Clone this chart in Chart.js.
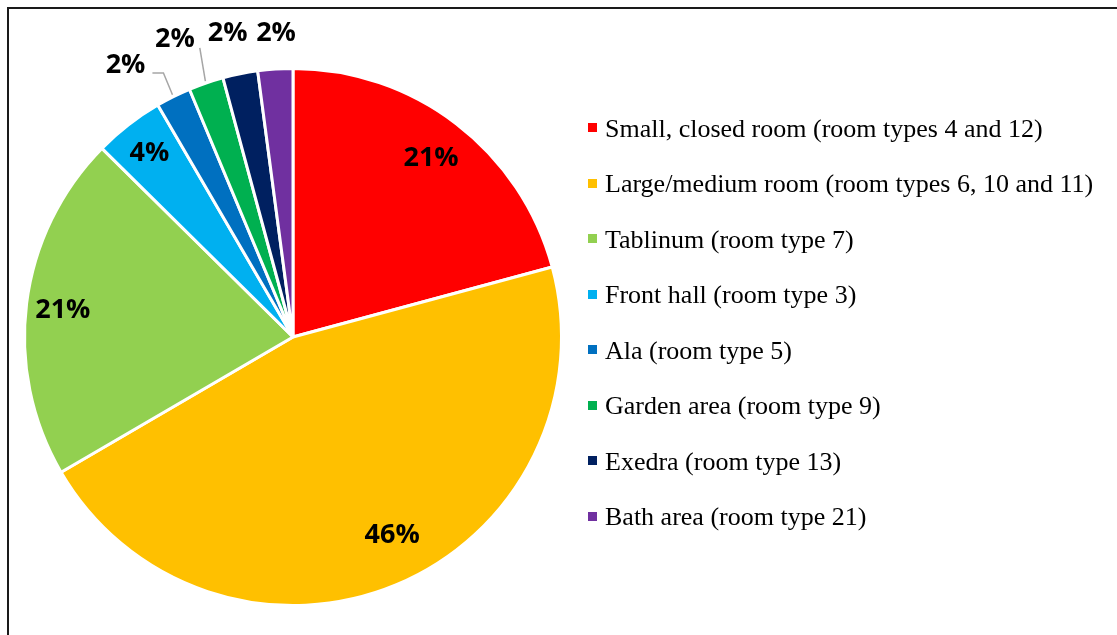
<!DOCTYPE html>
<html><head><meta charset="utf-8">
<script src="https://cdn.jsdelivr.net/npm/chart.js@4.4.1/dist/chart.umd.min.js"></script>
<style>
html,body{margin:0;padding:0;background:#fff;width:1117px;height:635px;overflow:hidden}
#frame{position:absolute;left:7px;top:7px;width:1200px;height:700px;border-left:2px solid #1a1a1a;border-top:2px solid #1a1a1a}
#c{position:absolute;left:0;top:0}
#legend{position:absolute;left:588px;top:100.5px;font-family:"Liberation Serif",serif;font-size:26px;color:#000}
.row{height:55.5px;line-height:55.5px;white-space:nowrap}
.box{display:inline-block;width:9px;height:9px;vertical-align:4.5px;margin-right:8px}
</style></head>
<body>
<div id="frame"></div>
<canvas id="c" width="1117" height="635"></canvas>
<div id="legend"></div>
<script>
// ---- data ----
const categories = [
  "Small, closed room (room types 4 and 12)",
  "Large/medium room (room types 6, 10 and 11)",
  "Tablinum (room type 7)",
  "Front hall (room type 3)",
  "Ala (room type 5)",
  "Garden area (room type 9)",
  "Exedra (room type 13)",
  "Bath area (room type 21)"
];
const shares = [20.8, 45.8, 20.8, 4.2, 2.1, 2.1, 2.1, 2.1];
const colors = ["#FF0000","#FFC000","#92D050","#00B0F0","#0070C0","#00B050","#002060","#7030A0"];

// ---- label placement config (angle offset in degrees, distance as fraction of radius) ----
const labelPlace = [
  {da:0, d:0.846}, {da:-4.1, d:0.82}, {da:0, d:0.864}, {da:0, d:0.873},
  {da:-5, d:1.195, leader:"elbow"}, {da:-2.6, d:1.2, leader:"straight"},
  {da:-0.7, d:1.165}, {da:0.6, d:1.14}
];

const labelPlugin = {
  id: 'pctLabels',
  afterDatasetsDraw(chart) {
    const ctx = chart.ctx;
    const meta = chart.getDatasetMeta(0);
    const data = chart.data.datasets[0].data;
    const total = data.reduce((a,b)=>a+b,0);
    const size = 27;
    ctx.save();
    ctx.font = "bold " + size + "px 'Open Sans'";
    ctx.textAlign = 'center';
    ctx.textBaseline = 'alphabetic';
    meta.data.forEach((arc, i) => {
      const p = arc.getProps(['x','y','startAngle','endAngle','outerRadius'], true);
      const cfg = labelPlace[i];
      const mid = (p.startAngle + p.endAngle)/2;
      const a = mid + cfg.da*Math.PI/180;
      const lx = p.x + Math.cos(a)*cfg.d*p.outerRadius;
      const ly = p.y + Math.sin(a)*cfg.d*p.outerRadius;
      const txt = Math.round(data[i]/total*100) + '%';
      const w = ctx.measureText(txt).width;
      const capH = size*0.714;
      const right = lx + w/2, bottom = ly + capH/2;
      if (cfg.leader) {
        const sx = p.x + Math.cos(mid)*(p.outerRadius+2);
        const sy = p.y + Math.sin(mid)*(p.outerRadius+2);
        ctx.strokeStyle = '#A6A6A6';
        ctx.lineWidth = 1.5;
        ctx.beginPath();
        ctx.moveTo(sx, sy);
        if (cfg.leader === 'elbow') {
          ctx.lineTo(right+18, bottom);
          ctx.lineTo(right+7, bottom);
        } else {
          ctx.lineTo(right+5, bottom+1);
        }
        ctx.stroke();
      }
      ctx.fillStyle = '#000';
      ctx.fillText(txt, lx, ly + capH/2);
    });
    ctx.restore();
  }
};

new Chart(document.getElementById('c'), {
  type: 'pie',
  data: {
    labels: categories,
    datasets: [{
      data: shares,
      backgroundColor: colors,
      borderColor: '#FFFFFF',
      borderWidth: 3
    }]
  },
  options: {
    responsive: false,
    animation: false,
    layout: { padding: { left: 23, top: 67, right: 554, bottom: 28 } },
    plugins: { legend: { display: false }, tooltip: { enabled: false } }
  },
  plugins: [labelPlugin]
});

// HTML legend from the same arrays
const lg = document.getElementById('legend');
categories.forEach((c, i) => {
  const row = document.createElement('div');
  row.className = 'row';
  const b = document.createElement('span');
  b.className = 'box';
  b.style.background = colors[i];
  row.appendChild(b);
  row.appendChild(document.createTextNode(c));
  lg.appendChild(row);
});
</script>
</body></html>
